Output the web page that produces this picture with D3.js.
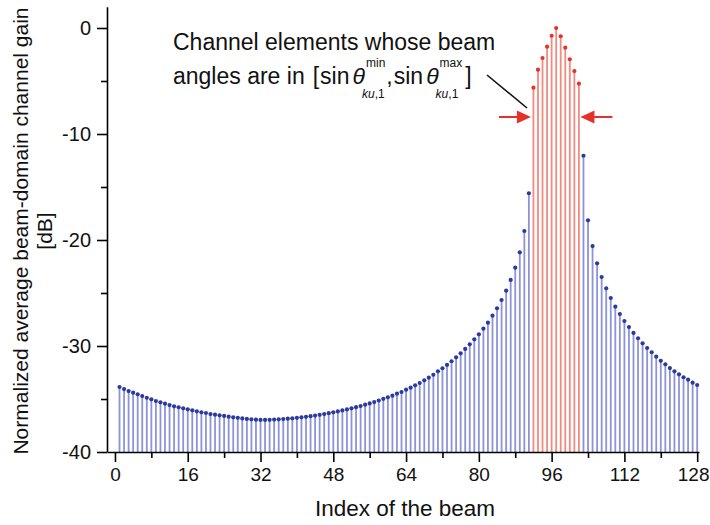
<!DOCTYPE html>
<html>
<head>
<meta charset="utf-8">
<script src="https://cdn.jsdelivr.net/npm/d3@7"></script>
<style>
  html, body { margin: 0; padding: 0; background: #ffffff; }
  svg { display: block; }
</style>
</head>
<body>
<svg id="chart" width="710" height="525"></svg>
<script>
// Normalized average beam-domain channel gain (dB) for beams 1..128
const gainDb = [
  -33.87, -34.06, -34.25, -34.40, -34.56, -34.72, -34.88, -35.03, -35.19, -35.31,
  -35.44, -35.57, -35.69, -35.78, -35.88, -35.97, -36.07, -36.16, -36.26, -36.32,
  -36.42, -36.48, -36.54, -36.60, -36.67, -36.73, -36.78, -36.83, -36.88, -36.92,
  -36.95, -36.97, -36.97, -36.96, -36.94, -36.92, -36.89, -36.86, -36.82, -36.78,
  -36.73, -36.68, -36.62, -36.56, -36.49, -36.42, -36.34, -36.26, -36.17, -36.08,
  -35.98, -35.88, -35.77, -35.66, -35.54, -35.42, -35.29, -35.14, -34.98, -34.84,
  -34.69, -34.50, -34.34, -34.12, -33.93, -33.71, -33.49, -33.24, -32.99, -32.71,
  -32.39, -32.10, -31.79, -31.44, -31.07, -30.69, -30.28, -29.84, -29.37, -28.90,
  -28.37, -27.80, -27.14, -26.44, -25.66, -24.78, -23.77, -22.61, -21.16, -19.15,
  -15.59,
  -5.63, -3.93, -2.83, -1.76, -0.73, 0.00, -0.78, -1.86, -2.95, -4.06, -5.25,
  -12.05, -18.14, -20.57, -22.20, -23.49, -24.56, -25.47, -26.29, -26.98, -27.64,
  -28.21, -28.77, -29.27, -29.75, -30.19, -30.59, -31.01, -31.39, -31.73, -32.08,
  -32.39, -32.67, -32.95, -33.18, -33.46, -33.68
];

// Beams whose angles fall inside [sin θmin, sin θmax]
const highlightFirst = 92;
const highlightLast = 102;

const xTicks = [0, 16, 32, 48, 64, 80, 96, 112, 128];
const xMinorTicks = [8, 24, 40, 56, 72, 88, 104, 120];
const yTicks = [0, -10, -20, -30, -40];
const yMinorTicks = [-5, -15, -25, -35];

const FONT = "'Liberation Sans', Arial, Helvetica, sans-serif";
const BLUE_STEM = "#8c93da";
const BLUE_DOT = "#2b3a9c";
const RED_STEM = "#f28a80";
const RED_DOT = "#e3342a";
const ARROW = "#e4322a";

const beams = gainDb.map((g, i) => ({ beam: i + 1, gain: g,
  hot: i + 1 >= highlightFirst && i + 1 <= highlightLast }));

const svg = d3.select("#chart");
const W = 710;

const x = d3.scaleLinear().domain([-1.75, 128.4]).range([107, 699]);
const y = d3.scaleLinear().domain([-40, 2]).range([452, 6.8]);

// Stems
svg.append("g")
  .selectAll("line")
  .data(beams)
  .join("line")
  .attr("x1", d => x(d.beam))
  .attr("x2", d => x(d.beam))
  .attr("y1", y(-40))
  .attr("y2", d => y(d.gain))
  .attr("stroke", d => d.hot ? RED_STEM : BLUE_STEM)
  .attr("stroke-width", 1.8);

// Stem heads
svg.append("g")
  .selectAll("circle")
  .data(beams)
  .join("circle")
  .attr("cx", d => x(d.beam))
  .attr("cy", d => y(d.gain))
  .attr("r", 2.1)
  .attr("fill", d => d.hot ? RED_DOT : BLUE_DOT);

// Axes (plain hyphen-minus in labels)
const plain = d => String(d);
function styleAxis(g, size) {
  g.selectAll("path.domain").attr("stroke", "#000").attr("stroke-width", 1.6);
  g.selectAll(".tick line").attr("stroke", "#000").attr("stroke-width", 1.6);
  g.selectAll(".tick text").attr("fill", "#111").attr("font-size", size).attr("font-family", FONT);
}

const xAxis = svg.append("g")
  .attr("transform", `translate(0,${y(-40)})`)
  .call(d3.axisBottom(x).tickValues(xTicks).tickFormat(plain)
    .tickSize(10).tickSizeOuter(0).tickPadding(6));
styleAxis(xAxis, 19);
// keep the last label inside the canvas
xAxis.selectAll(".tick text").each(function (d) {
  const t = d3.select(this);
  const half = this.getComputedTextLength() / 2;
  const over = x(d) + half - (W - 1);
  if (over > 0) t.attr("x", -over);
});

const xMinor = svg.append("g")
  .attr("transform", `translate(0,${y(-40)})`)
  .call(d3.axisBottom(x).tickValues(xMinorTicks).tickFormat("").tickSize(6).tickSizeOuter(0));
xMinor.select("path.domain").remove();
styleAxis(xMinor, 19);

const yAxis = svg.append("g")
  .attr("transform", `translate(${x(-1.75)},0)`)
  .call(d3.axisLeft(y).tickValues(yTicks).tickFormat(plain)
    .tickSize(10).tickSizeOuter(0).tickPadding(6));
styleAxis(yAxis, 20);

const yMinor = svg.append("g")
  .attr("transform", `translate(${x(-1.75)},0)`)
  .call(d3.axisLeft(y).tickValues(yMinorTicks).tickFormat("").tickSize(6).tickSizeOuter(0));
yMinor.select("path.domain").remove();
styleAxis(yMinor, 20);

// Axis titles
svg.append("text")
  .attr("transform", "translate(405,516)")
  .attr("text-anchor", "middle")
  .attr("font-family", FONT).attr("font-size", 22.5).attr("fill", "#111")
  .text("Index of the beam");

svg.append("text")
  .attr("transform", "translate(28,231) rotate(-90)")
  .attr("text-anchor", "middle")
  .attr("font-family", FONT).attr("font-size", 21).attr("fill", "#111")
  .text("Normalized average beam-domain channel gain");

svg.append("text")
  .attr("transform", "translate(52,231) rotate(-90)")
  .attr("text-anchor", "middle")
  .attr("font-family", FONT).attr("font-size", 21).attr("fill", "#111")
  .text("[dB]");

// Annotation
const ann = svg.append("g").attr("font-family", FONT).attr("fill", "#111");
const annX = 173, line1 = 50, line2 = 84, big = 23, small = 12;

ann.append("text").attr("x", annX).attr("y", line1).attr("font-size", big)
  .text("Channel elements whose beam");

function put(str, cx, base, size, italic) {
  const t = ann.append("text").attr("x", cx).attr("y", base).attr("font-size", size)
    .attr("font-style", italic ? "italic" : "normal").text(str);
  return cx + t.node().getComputedTextLength();
}
function putSub(cx, base) {
  const t = ann.append("text").attr("x", cx).attr("y", base).attr("font-size", small);
  t.append("tspan").attr("font-style", "italic").text("ku");
  t.append("tspan").text(",1");
  return cx + t.node().getComputedTextLength();
}
function putTheta(cx, sup) {
  const thEnd = put("\u03B8", cx, line2, big, true);
  const supEnd = put(sup, thEnd + 1, line2 - 17, small, false);
  const subEnd = putSub(thEnd - 3, line2 + 14);
  return Math.max(supEnd, subEnd);
}

let cx = put("angles are in", annX, line2, big, false);
cx = put("[", cx + 8, line2, big, false);
cx = put("sin", cx + 1, line2, big, false);
cx = putTheta(cx + 3, "min");
cx = put(",", cx + 1, line2, big, false);
cx = put("sin", cx + 1, line2, big, false);
cx = putTheta(cx + 3, "max");
put("]", cx + 3, line2, big, false);

// Leader line toward the highlighted group
svg.append("line")
  .attr("x1", 487).attr("y1", 75).attr("x2", 527).attr("y2", 108)
  .attr("stroke", "#111").attr("stroke-width", 1.6);

// Arrows bracketing the highlighted beams
const arrowY = 117;
function arrow(tipX, dir) {
  const headLen = 14, half = 6.5, tail = 32;
  svg.append("line")
    .attr("x1", tipX - dir * tail).attr("x2", tipX - dir * (headLen - 2))
    .attr("y1", arrowY).attr("y2", arrowY)
    .attr("stroke", ARROW).attr("stroke-width", 2);
  svg.append("path")
    .attr("d", `M${tipX},${arrowY} L${tipX - dir * headLen},${arrowY - half} L${tipX - dir * headLen},${arrowY + half} Z`)
    .attr("fill", ARROW);
}
arrow(x(highlightFirst) - 2.5, 1);
arrow(x(highlightLast) + 1.5, -1);
</script>
</body>
</html>
